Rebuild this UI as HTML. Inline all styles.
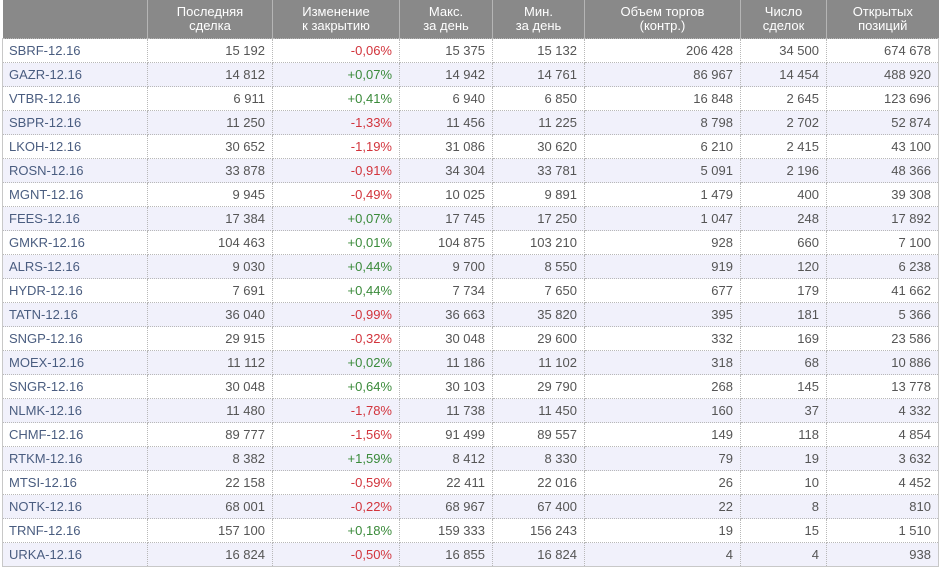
<!DOCTYPE html>
<html><head><meta charset="utf-8">
<style>
html,body{margin:0;padding:0;background:#fff;width:939px;height:567px;overflow:hidden}
table{position:absolute;left:2px;top:0;border-collapse:collapse;font-family:"Liberation Sans",Arial,sans-serif;font-size:13px;table-layout:fixed;width:936px}
th{background:#898989;color:#fff;font-weight:normal;height:38px;padding:0 10px;text-align:center;line-height:14px;border-left:1px solid #b5b5b5;vertical-align:middle}
th:first-child{border-left:none}
td{height:23px;padding:0 7px;text-align:right;color:#555;border:1px dotted #b8b8b8;white-space:nowrap}
td:first-child{text-align:left;color:#4a5d80;border-left:1px solid #c8c8c8;padding-left:6px}
td:last-child{border-right:1px solid #c8c8c8}
tr.alt td{background:#f1f1fb}
tr:last-child td{border-bottom:1px solid #c8c8c8}
.neg{color:#d2343c !important}
.pos{color:#3a8a3a !important}
</style></head><body>
<table>
<colgroup><col style="width:145px"><col style="width:125px"><col style="width:127px"><col style="width:93px"><col style="width:92px"><col style="width:156px"><col style="width:86px"><col style="width:112px"></colgroup>
<thead><tr>
<th></th>
<th>Последняя<br>сделка</th>
<th>Изменение<br>к закрытию</th>
<th>Макс.<br>за день</th>
<th>Мин.<br>за день</th>
<th>Объем торгов<br>(контр.)</th>
<th>Число<br>сделок</th>
<th>Открытых<br>позиций</th>
</tr></thead>
<tbody id="tb"></tbody>
</table>
<script>
const tickers=["SBRF","GAZR","VTBR","SBPR","LKOH","ROSN","MGNT","FEES","GMKR","ALRS","HYDR","TATN","SNGP","MOEX","SNGR","NLMK","CHMF","RTKM","MTSI","NOTK","TRNF","URKA"];
const last=["15 192","14 812","6 911","11 250","30 652","33 878","9 945","17 384","104 463","9 030","7 691","36 040","29 915","11 112","30 048","11 480","89 777","8 382","22 158","68 001","157 100","16 824"];
const chg=["-0,06%","+0,07%","+0,41%","-1,33%","-1,19%","-0,91%","-0,49%","+0,07%","+0,01%","+0,44%","+0,44%","-0,99%","-0,32%","+0,02%","+0,64%","-1,78%","-1,56%","+1,59%","-0,59%","-0,22%","+0,18%","-0,50%"];
const hi=["15 375","14 942","6 940","11 456","31 086","34 304","10 025","17 745","104 875","9 700","7 734","36 663","30 048","11 186","30 103","11 738","91 499","8 412","22 411","68 967","159 333","16 855"];
const lo=["15 132","14 761","6 850","11 225","30 620","33 781","9 891","17 250","103 210","8 550","7 650","35 820","29 600","11 102","29 790","11 450","89 557","8 330","22 016","67 400","156 243","16 824"];
const vol=["206 428","86 967","16 848","8 798","6 210","5 091","1 479","1 047","928","919","677","395","332","318","268","160","149","79","26","22","19","4"];
const deals=["34 500","14 454","2 645","2 702","2 415","2 196","400","248","660","120","179","181","169","68","145","37","118","19","10","8","15","4"];
const oi=["674 678","488 920","123 696","52 874","43 100","48 366","39 308","17 892","7 100","6 238","41 662","5 366","23 586","10 886","13 778","4 332","4 854","3 632","4 452","810","1 510","938"];
const tb=document.getElementById('tb');
tickers.forEach((t,i)=>{
  const tr=document.createElement('tr');
  
  
  if(i%2)tr.className='alt';
  const vals=[t+"-12.16",last[i],chg[i],hi[i],lo[i],vol[i],deals[i],oi[i]];
  const names=['ticker','last','change','max','min','volume','deals','open-interest'];
  vals.forEach((v,j)=>{
    const td=document.createElement('td');
    
    
    td.textContent=v;
    if(j==2)td.className=v[0]=='-'?'neg':'pos';
    tr.appendChild(td);
  });
  tb.appendChild(tr);
});
</script>
</body></html>
